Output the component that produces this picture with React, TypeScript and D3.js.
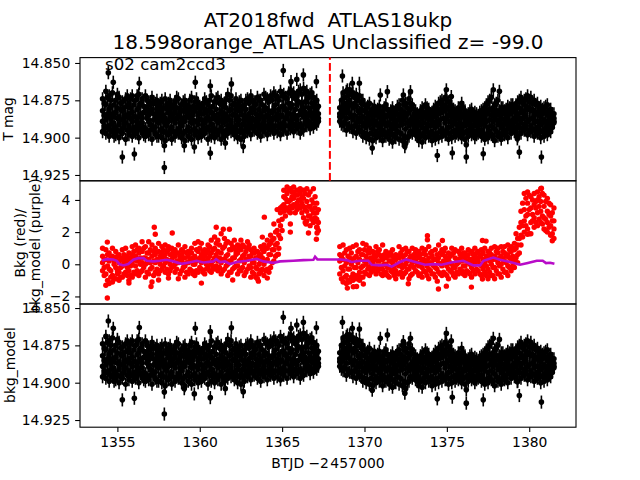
import { useEffect, useRef } from 'react';
import * as d3 from 'd3';

// cadence columns of the light curve (BTJD - 2457000 is shown on the axis)
const times = [
  1354.1, 1354.3, 1354.5, 1354.7, 1354.9, 1355.1, 1355.3, 1355.5, 1355.7, 1355.9, 1356.1, 1356.3, 1356.5, 1356.7, 1356.9,
  1357.1, 1357.3, 1357.5, 1357.7, 1357.9, 1358.1, 1358.3, 1358.5, 1358.7, 1358.9, 1359.1, 1359.3, 1359.5, 1359.7, 1359.9,
  1360.1, 1360.3, 1360.5, 1360.7, 1360.9, 1361.1, 1361.3, 1361.5, 1361.7, 1361.9, 1362.1, 1362.3, 1362.5, 1362.7, 1362.9,
  1363.1, 1363.3, 1363.5, 1363.7, 1363.9, 1364.1, 1364.3, 1364.5, 1364.7, 1364.9, 1365.1, 1365.3, 1365.5, 1365.7, 1365.9,
  1366.1, 1366.3, 1366.5, 1366.7, 1366.9, 1367.1,
  1368.5, 1368.7, 1368.9, 1369.1, 1369.3, 1369.5, 1369.7, 1369.9, 1370.1, 1370.3, 1370.5, 1370.7, 1370.9, 1371.1, 1371.3,
  1371.5, 1371.7, 1371.9, 1372.1, 1372.3, 1372.5, 1372.7, 1372.9, 1373.1, 1373.3, 1373.5, 1373.7, 1373.9, 1374.1, 1374.3,
  1374.5, 1374.7, 1374.9, 1375.1, 1375.3, 1375.5, 1375.7, 1375.9, 1376.1, 1376.3, 1376.5, 1376.7, 1376.9, 1377.1, 1377.3,
  1377.5, 1377.7, 1377.9, 1378.1, 1378.3, 1378.5, 1378.7, 1378.9, 1379.1, 1379.3, 1379.5, 1379.7, 1379.9, 1380.1, 1380.3,
  1380.5, 1380.7, 1380.9, 1381.1, 1381.3, 1381.5,
];
const midTimes = [
  1354.2, 1354.4, 1354.6, 1354.8, 1355.0, 1355.2, 1355.4, 1355.6, 1355.8, 1356.0, 1356.2, 1356.4, 1356.6, 1356.8, 1357.0,
  1357.2, 1357.4, 1357.6, 1357.8, 1358.0, 1358.2, 1358.4, 1358.6, 1358.8, 1359.0, 1359.2, 1359.4, 1359.6, 1359.8, 1360.0,
  1360.2, 1360.4, 1360.6, 1360.8, 1361.0, 1361.2, 1361.4, 1361.6, 1361.8, 1362.0, 1362.2, 1362.4, 1362.6, 1362.8, 1363.0,
  1363.2, 1363.4, 1363.6, 1363.8, 1364.0, 1364.2, 1364.4, 1364.6, 1364.8, 1365.0, 1365.2, 1365.4, 1365.6, 1365.8, 1366.0,
  1366.2, 1366.4, 1366.6, 1366.8, 1367.0, 1367.2,
  1368.6, 1368.8, 1369.0, 1369.2, 1369.4, 1369.6, 1369.8, 1370.0, 1370.2, 1370.4, 1370.6, 1370.8, 1371.0, 1371.2, 1371.4,
  1371.6, 1371.8, 1372.0, 1372.2, 1372.4, 1372.6, 1372.8, 1373.0, 1373.2, 1373.4, 1373.6, 1373.8, 1374.0, 1374.2, 1374.4,
  1374.6, 1374.8, 1375.0, 1375.2, 1375.4, 1375.6, 1375.8, 1376.0, 1376.2, 1376.4, 1376.6, 1376.8, 1377.0, 1377.2, 1377.4,
  1377.6, 1377.8, 1378.0, 1378.2, 1378.4, 1378.6, 1378.8, 1379.0, 1379.2, 1379.4, 1379.6, 1379.8, 1380.0, 1380.2, 1380.4,
  1380.6, 1380.8, 1381.0, 1381.2, 1381.4,
];

// magnitudes in the dense band, millimag above 14.000, four readings per column
const bandMags = [
  [874, 882, 889, 896], [869, 878, 888, 897], [872, 881, 892, 899], [870, 884, 890, 896], [875, 883, 893, 898],
  [873, 886, 891, 900], [876, 882, 894, 897], [874, 885, 890, 901], [877, 884, 892, 898], [872, 883, 889, 899],
  [875, 886, 893, 897], [871, 880, 891, 900], [874, 887, 890, 896], [872, 882, 894, 899], [876, 885, 889, 898],
  [873, 881, 892, 901], [877, 886, 893, 897], [879, 884, 890, 899], [875, 882, 894, 900], [874, 887, 891, 902],
  [877, 883, 889, 898], [880, 886, 893, 901], [876, 882, 890, 899], [874, 885, 894, 897], [878, 887, 892, 900],
  [875, 881, 889, 902], [879, 884, 893, 899], [873, 886, 890, 901], [876, 882, 894, 898], [877, 885, 891, 900],
  [880, 888, 895, 899], [874, 881, 890, 897], [878, 886, 893, 901], [872, 883, 891, 899], [876, 885, 894, 900],
  [873, 887, 890, 898], [875, 882, 893, 901], [877, 884, 889, 899], [871, 886, 892, 897], [872, 881, 890, 896],
  [877, 884, 893, 898], [879, 886, 891, 900], [875, 882, 894, 901], [878, 885, 889, 899], [874, 887, 892, 896],
  [872, 883, 890, 898], [876, 881, 893, 895], [873, 886, 891, 897], [875, 884, 894, 899], [871, 882, 889, 896],
  [874, 885, 892, 898], [872, 887, 890, 895], [870, 881, 893, 897], [873, 884, 888, 896], [869, 886, 891, 898],
  [871, 879, 890, 895], [874, 883, 887, 897], [868, 880, 889, 894], [870, 884, 892, 896], [872, 878, 888, 894],
  [868, 882, 891, 897], [867, 880, 886, 895], [869, 876, 888, 892], [871, 883, 890, 894], [873, 879, 887, 893],
  [875, 881, 889, 891],
  [880, 884, 886, 889], [870, 878, 885, 892], [869, 877, 887, 895], [868, 875, 884, 893], [870, 880, 888, 896],
  [871, 879, 890, 897], [872, 883, 889, 895], [875, 886, 892, 899], [880, 887, 893, 900], [877, 885, 891, 901],
  [881, 888, 894, 902], [883, 889, 896, 900], [879, 886, 893, 899], [882, 888, 895, 902], [878, 886, 892, 899],
  [884, 890, 896, 901], [880, 887, 894, 903], [882, 889, 893, 900], [878, 885, 892, 901], [875, 884, 891, 902],
  [877, 886, 894, 904], [874, 883, 892, 899], [878, 887, 890, 897], [882, 889, 895, 898], [885, 890, 896, 902],
  [880, 887, 893, 903], [878, 886, 894, 900], [881, 888, 892, 899], [883, 889, 896, 902], [879, 886, 893, 901],
  [877, 884, 891, 900], [875, 883, 894, 899], [873, 882, 890, 898], [876, 885, 893, 901], [879, 886, 892, 900],
  [882, 888, 895, 899], [880, 887, 893, 898], [877, 886, 894, 900], [882, 888, 892, 901], [884, 889, 895, 899],
  [881, 887, 893, 898], [883, 889, 896, 900], [885, 890, 894, 897], [882, 888, 895, 899], [880, 886, 892, 901],
  [876, 884, 893, 900], [873, 885, 892, 898], [878, 886, 894, 902], [875, 884, 891, 899], [880, 887, 893, 901],
  [882, 888, 895, 898], [879, 886, 892, 900], [878, 884, 891, 897], [880, 887, 893, 896], [876, 885, 892, 899],
  [873, 883, 890, 897], [875, 884, 891, 895], [872, 881, 889, 898], [873, 882, 892, 896], [875, 885, 890, 899],
  [877, 884, 893, 897], [879, 886, 891, 900], [880, 888, 894, 899], [878, 885, 892, 898], [881, 887, 893, 896],
  [884, 887, 889, 890],
];
const midMags = [
  [877, 885, 892, 894], [873, 884, 886, 893], [875, 879, 887, 895], [878, 886, 893, 899], [871, 880, 887, 895],
  [877, 881, 888, 896], [880, 887, 890, 893], [872, 879, 886, 895], [874, 880, 887, 895], [878, 886, 893, 896],
  [872, 881, 889, 895], [877, 884, 886, 894], [879, 883, 893, 898], [875, 880, 887, 896], [878, 882, 891, 895],
  [876, 884, 888, 895], [875, 881, 888, 899], [877, 882, 887, 895], [880, 885, 889, 896], [878, 881, 892, 897],
  [875, 880, 886, 895], [878, 884, 888, 896], [873, 880, 887, 896], [880, 883, 890, 895], [876, 882, 889, 897],
  [878, 883, 886, 895], [875, 881, 887, 896], [879, 883, 888, 895], [874, 880, 889, 896], [879, 883, 888, 897],
  [877, 884, 892, 895], [876, 883, 887, 894], [875, 881, 888, 895], [879, 887, 894, 896], [874, 881, 888, 896],
  [877, 884, 888, 895], [879, 886, 890, 896], [874, 880, 887, 895], [875, 882, 888, 894], [878, 885, 893, 895],
  [874, 881, 888, 895], [876, 882, 888, 896], [879, 885, 891, 896], [875, 881, 887, 894], [877, 884, 889, 893],
  [875, 880, 887, 893], [878, 884, 889, 892], [875, 881, 888, 894], [878, 886, 891, 893], [873, 880, 886, 893],
  [876, 882, 887, 894], [875, 883, 888, 892], [872, 878, 886, 892], [875, 881, 886, 893], [872, 879, 885, 893],
  [873, 881, 887, 892], [870, 877, 884, 892], [872, 878, 886, 891], [874, 881, 887, 891], [869, 876, 885, 892],
  [871, 877, 884, 893], [870, 876, 883, 890], [873, 880, 885, 889], [870, 877, 884, 891], [876, 882, 885, 890],
  [879, 884, 887, 889],
  [875, 881, 886, 891], [873, 880, 883, 890], [872, 879, 882, 891], [871, 878, 886, 893], [873, 877, 885, 892],
  [875, 882, 887, 893], [877, 881, 887, 896], [878, 882, 890, 897], [879, 884, 889, 898], [882, 884, 890, 897],
  [879, 885, 891, 898], [881, 884, 891, 897], [884, 887, 891, 897], [880, 885, 890, 898], [881, 885, 891, 897],
  [882, 886, 892, 898], [883, 885, 891, 898], [879, 884, 888, 896], [881, 886, 889, 897], [878, 883, 888, 899],
  [880, 884, 890, 900], [877, 881, 888, 896], [881, 885, 892, 895], [884, 887, 892, 899], [882, 885, 891, 899],
  [883, 886, 890, 897], [880, 884, 891, 896], [884, 887, 892, 898], [881, 885, 890, 898], [880, 883, 889, 897],
  [876, 881, 888, 896], [878, 881, 887, 896], [875, 880, 887, 896], [878, 882, 889, 897], [881, 884, 890, 896],
  [884, 886, 891, 897], [881, 884, 890, 896], [880, 884, 891, 897], [885, 887, 891, 896], [882, 885, 891, 895],
  [885, 888, 892, 896], [884, 887, 892, 898], [883, 886, 891, 896], [881, 884, 890, 897], [878, 882, 889, 898],
  [875, 881, 888, 896], [880, 883, 889, 899], [877, 882, 888, 896], [882, 885, 890, 898], [880, 884, 891, 896],
  [881, 884, 890, 897], [880, 883, 889, 894], [878, 882, 889, 894], [878, 883, 889, 896], [875, 880, 887, 893],
  [877, 882, 887, 894], [874, 879, 886, 893], [876, 880, 888, 895], [877, 881, 887, 894], [878, 883, 889, 896],
  [880, 883, 889, 895], [881, 884, 890, 896], [879, 883, 889, 895], [882, 885, 890, 895], [884, 888, 890, 893],
];

// stragglers outside the band, read one by one; T mag and bkg_model panels
const strayTimes = [
  1354.45, 1354.75, 1355.3, 1356.03, 1356.33, 1357.85, 1357.85, 1359.06, 1359.67, 1359.73, 1360.64, 1360.64, 1361.55, 1361.92,
  1362.64, 1365.07, 1365.54, 1365.89, 1366.29, 1367.08, 1368.66, 1368.96, 1369.26, 1369.69, 1370.47, 1370.96, 1371.39, 1372.36,
  1372.45, 1372.79, 1374.42, 1374.97, 1375.27, 1375.33, 1376.18, 1376.18, 1377.21, 1377.82, 1378.19, 1379.28, 1379.4, 1380.74,
];
const strayMagsT = [
  856.5, 862.9, 913, 911, 863.6, 920, 905.5, 905.5, 906.3, 862.9, 910.4, 865.4, 903.7, 864,
  906, 855, 862.5, 861, 858, 862.5, 858.7, 868, 863.6, 863.6, 907, 871.4, 869.2, 871.4,
  906, 869.2, 912, 868, 872.5, 910.3, 913, 904.8, 910.8, 868, 869, 900.8, 909.7, 913,
];
const strayMagsModel = [
  858.7, 863.6, 911.5, 910.4, 863, 921, 906.3, 904, 907.5, 863.6, 910, 865.8, 904, 863.2,
  906, 856.2, 863.6, 861.4, 859.6, 863.2, 859.6, 868, 863.6, 864, 905, 870.3, 868, 872.5,
  907, 870.3, 910.8, 867, 872, 909.7, 913.7, 904.8, 911.5, 870.3, 871, 899.3, 908.6, 913,
];

// background flux, four readings per column
const bkgValues = [
  [-0.4, 0.1, 0.5, 1.0], [-1.3, -0.6, 0.3, 0.9], [-1.2, -0.3, 0.2, 0.7], [-1.1, -0.7, 0.5, 1.0], [-0.9, -0.2, 0.3, 0.8],
  [-1.0, -0.5, 0.1, 0.6], [-0.8, -0.1, 0.4, 0.9], [-0.5, 0.0, 0.3, 1.0], [-1.0, -0.4, 0.2, 0.7], [-0.8, 0.1, 0.6, 1.1],
  [-0.6, -0.1, 0.5, 1.2], [-0.7, 0.2, 0.7, 1.0], [-0.4, 0.1, 0.8, 1.4], [-0.8, 0.0, 0.4, 1.1], [-0.6, 0.3, 0.7, 1.4],
  [-1.1, -0.2, 0.5, 1.2], [-0.5, 0.1, 0.6, 1.0], [-0.6, 0.2, 0.8, 1.3], [-0.3, 0.3, 0.7, 1.1], [-0.5, 0.1, 0.6, 1.2],
  [-0.6, 0.2, 0.9, 1.1], [-0.2, 0.3, 0.6, 1.0], [-0.5, 0.0, 0.5, 0.9], [-0.9, 0.1, 0.7, 1.2], [-0.4, 0.2, 0.6, 0.9],
  [-0.8, -0.1, 0.4, 1.1], [-0.6, 0.1, 0.5, 0.8], [-0.4, 0.2, 0.7, 1.0], [-0.7, 0.0, 0.5, 1.3], [-0.5, 0.3, 0.8, 1.4],
  [-0.3, 0.1, 0.6, 1.3], [-0.6, 0.2, 0.5, 0.9], [-0.2, 0.3, 0.9, 1.2], [-0.5, 0.0, 0.7, 1.5], [-0.3, 0.4, 1.0, 1.7],
  [-0.4, 0.2, 0.8, 1.5], [-0.6, 0.1, 0.7, 1.9], [-0.3, 0.3, 1.1, 1.6], [-0.7, 0.0, 0.6, 1.4], [-0.5, 0.2, 0.9, 1.3],
  [-0.2, 0.4, 1.0, 1.5], [-0.6, -0.1, 0.7, 1.2], [-0.4, 0.3, 0.9, 1.5], [-0.7, 0.1, 0.6, 1.1], [-0.3, 0.3, 1.0, 1.4],
  [-0.8, -0.2, 0.5, 0.9], [-0.6, 0.1, 0.7, 1.0], [-0.9, -0.3, 0.4, 0.8], [-0.5, 0.2, 0.6, 1.1], [-0.7, 0.0, 0.8, 1.2],
  [-0.3, 0.3, 1.0, 1.5], [-0.2, 0.6, 1.3, 1.8], [0.2, 0.9, 1.6, 2.5], [0.6, 1.3, 2.1, 3.4], [1.6, 2.4, 3.2, 3.5],
  [3.3, 3.7, 4.2, 4.6], [3.5, 3.9, 4.4, 4.8], [3.2, 3.6, 4.0, 4.7], [3.7, 4.1, 4.5, 4.8], [3.4, 3.8, 4.3, 4.6],
  [3.5, 4.0, 4.4, 4.7], [2.9, 3.6, 4.1, 4.6], [2.7, 3.3, 3.9, 4.7], [2.4, 3.0, 3.6, 4.5], [2.6, 3.2, 3.8, 4.7],
  [2.3, 2.8, 3.2, 3.8],
  [-0.6, 0.2, 0.6, 1.1], [-1.1, -0.4, 0.3, 1.2], [-1.2, -0.7, 0.1, 0.9], [-1.1, -0.3, 0.4, 1.0], [-1.0, -0.6, 0.2, 1.1],
  [-0.9, -0.2, 0.5, 1.2], [-1.0, -0.5, 0.3, 0.9], [-0.8, -0.1, 0.6, 1.3], [-0.6, 0.0, 0.5, 1.2], [-0.7, -0.2, 0.7, 1.0],
  [-0.4, 0.1, 0.4, 0.8], [-0.6, -0.1, 0.5, 1.1], [-0.3, 0.2, 0.6, 0.9], [-0.7, -0.3, 0.3, 1.2], [-0.5, 0.0, 0.4, 0.8],
  [-0.8, -0.2, 0.2, 0.7], [-0.5, 0.1, 0.5, 0.9], [-0.9, -0.4, 0.3, 0.6], [-0.6, -0.1, 0.4, 1.1], [-0.8, -0.2, 0.5, 0.9],
  [-0.5, 0.0, 0.6, 1.0], [-0.9, -0.3, 0.3, 0.8], [-0.6, 0.1, 0.5, 1.0], [-0.4, 0.2, 0.7, 0.9], [-0.7, -0.1, 0.4, 0.8],
  [-0.8, -0.2, 0.3, 1.0], [-0.5, 0.1, 0.6, 0.9], [-0.9, -0.3, 0.4, 1.1], [-0.6, 0.0, 0.5, 0.8], [-0.8, -0.2, 0.3, 0.9],
  [-0.5, 0.1, 0.4, 1.2], [-0.7, -0.1, 0.6, 0.9], [-0.6, 0.2, 0.5, 1.0], [-0.9, -0.3, 0.3, 0.7], [-0.5, 0.0, 0.6, 1.0],
  [-0.8, -0.2, 0.4, 0.9], [-0.6, 0.1, 0.3, 0.8], [-0.4, 0.2, 0.5, 1.0], [-0.7, -0.1, 0.4, 0.7], [-0.5, 0.1, 0.6, 0.9],
  [-0.8, -0.2, 0.3, 0.8], [-0.6, 0.0, 0.5, 1.0], [-0.4, 0.2, 0.4, 0.8], [-0.7, -0.1, 0.6, 0.9], [-0.5, 0.1, 0.3, 1.0],
  [-0.9, -0.3, 0.4, 0.8], [-0.7, 0.0, 0.6, 1.0], [-0.9, -0.2, 0.5, 1.1], [-0.6, 0.1, 0.7, 1.0], [-0.8, 0.0, 0.5, 1.1],
  [-0.5, 0.2, 0.7, 1.1], [-0.7, -0.1, 0.6, 1.2], [-0.4, 0.2, 0.8, 1.1], [-0.2, 0.3, 0.9, 1.3], [0.1, 0.6, 1.2, 1.6],
  [1.2, 1.8, 2.6, 3.3], [2.0, 2.7, 3.4, 4.4], [2.2, 3.1, 3.8, 4.5], [1.9, 2.6, 3.5, 4.2], [2.3, 2.9, 3.7, 4.4],
  [2.4, 3.2, 4.0, 4.5], [2.6, 3.3, 3.9, 4.7], [2.2, 2.9, 3.6, 4.3], [2.0, 2.6, 3.3, 4.1], [1.8, 2.4, 3.0, 3.7],
  [1.6, 2.2, 2.7, 3.5],
];
const midBkg = [
  [-0.7, -0.2, 0.3], [-1.0, -0.1, 0.6], [-0.8, -0.4, 0.4], [-0.9, 0.0, 0.2], [-0.6, -0.4, 0.5],
  [-0.8, -0.2, 0.3], [-0.6, 0.1, 0.6], [-0.7, -0.2, 0.5], [-0.7, -0.1, 0.4], [-0.5, 0.3, 0.8],
  [-0.4, 0.2, 0.9], [-0.5, 0.0, 0.4], [-0.2, 0.4, 1.0], [-0.5, 0.1, 0.7], [-0.3, 0.1, 0.9],
  [-0.7, 0.2, 0.8], [-0.3, 0.3, 0.8], [-0.4, 0.0, 0.5], [-0.1, 0.5, 0.9], [-0.3, 0.3, 0.8],
  [-0.4, 0.0, 0.6], [-0.1, 0.5, 0.8], [-0.3, 0.2, 0.7], [-0.6, 0.3, 0.5], [-0.2, 0.4, 0.8],
  [-0.5, 0.1, 0.7], [-0.3, 0.3, 0.7], [-0.6, 0.0, 0.4], [-0.4, 0.2, 0.9], [-0.2, 0.4, 1.0],
  [-0.5, 0.3, 0.8], [-0.3, 0.0, 0.7], [-0.4, 0.5, 1.1], [-0.2, 0.2, 0.9], [-0.1, 0.6, 1.3],
  [-0.2, 0.4, 1.2], [-0.4, 0.3, 1.0], [-0.1, 0.5, 1.3], [-0.5, 0.2, 0.9], [-0.3, 0.4, 1.1],
  [-0.1, 0.6, 0.8], [-0.4, 0.2, 1.0], [-0.2, 0.5, 1.2], [-0.5, 0.3, 0.8], [-0.1, 0.5, 1.2],
  [-0.5, 0.1, 0.7], [-0.8, -0.2, 0.4], [-0.6, 0.0, 0.6], [-0.3, 0.4, 0.9], [-0.4, 0.2, 1.0],
  [-0.5, 0.6, 1.2], [0.1, 0.9, 1.5], [0.5, 1.2, 2.0], [1.0, 1.8, 2.7], [2.1, 2.8, 3.6],
  [3.0, 3.5, 4.1], [3.3, 3.9, 4.6], [3.5, 4.2, 4.5], [3.2, 3.6, 4.3], [3.6, 4.0, 4.6],
  [3.2, 3.8, 4.2], [2.6, 3.4, 4.4], [3.0, 3.6, 4.3], [2.8, 3.4, 4.0], [2.9, 3.5, 4.2],
  [2.1, 2.6, 3.4],
  [-0.9, -0.2, 0.5], [-0.8, -0.1, 0.7], [-1.0, -0.3, 0.5], [-0.8, 0.0, 0.7], [-0.7, -0.2, 0.4],
  [-0.7, 0.1, 0.8], [-0.8, -0.2, 0.6], [-0.5, 0.2, 0.9], [-0.3, 0.3, 0.8], [-0.5, 0.1, 0.4],
  [-0.2, 0.3, 0.6], [-0.4, 0.2, 0.8], [-0.6, -0.1, 0.5], [-0.5, 0.0, 0.6], [-0.7, -0.2, 0.5],
  [-0.4, 0.2, 0.7], [-0.7, -0.2, 0.4], [-0.6, 0.0, 0.5], [-0.5, 0.1, 0.7], [-0.6, -0.1, 0.3],
  [-0.3, 0.2, 0.8], [-0.7, -0.1, 0.5], [-0.2, 0.3, 0.6], [-0.5, 0.0, 0.5], [-0.6, 0.1, 0.6],
  [-0.4, 0.3, 0.7], [-0.7, -0.1, 0.2], [-0.4, 0.1, 0.7], [-0.6, -0.1, 0.3], [-0.3, 0.3, 0.6],
  [-0.6, 0.0, 0.7], [-0.5, 0.2, 0.8], [-0.7, -0.1, 0.4], [-0.4, 0.1, 0.5], [-0.7, -0.2, 0.7],
  [-0.5, 0.0, 0.3], [-0.3, 0.3, 0.6], [-0.6, -0.1, 0.7], [-0.4, 0.2, 0.5], [-0.6, 0.0, 0.3],
  [-0.4, 0.1, 0.6], [-0.3, 0.3, 0.7], [-0.6, 0.0, 0.5], [-0.3, 0.3, 0.7], [-0.7, -0.1, 0.5],
  [-0.5, 0.2, 0.7], [-0.7, -0.2, 0.3], [-0.4, 0.3, 0.8], [-0.6, -0.1, 0.4], [-0.3, 0.3, 0.8],
  [-0.5, 0.1, 0.5], [-0.2, 0.4, 0.9], [-0.1, 0.5, 1.0], [0.4, 1.0, 1.9], [0.7, 1.6, 2.3],
  [1.7, 2.4, 3.8], [2.4, 3.0, 4.1], [1.9, 3.4, 4.3], [2.7, 3.1, 4.0], [2.6, 3.5, 3.9],
  [2.8, 3.6, 4.2], [2.5, 3.0, 4.4], [2.1, 2.8, 3.9], [2.3, 3.1, 3.8], [1.9, 2.7, 3.2],
];

const strayBkgTimes = [
  1354.39, 1354.39, 1355.7, 1357.04, 1357.24, 1357.3, 1357.5, 1358.1, 1358.33, 1360.1, 1361.0, 1361.43, 1361.8, 1362.0, 1363.56,
  1363.8, 1363.92, 1364.1, 1364.77, 1365.5, 1365.5, 1366.45, 1366.6, 1367.08, 1367.12, 1367.12, 1368.96, 1369.32, 1369.52,
  1369.93, 1372.66, 1373.82, 1373.82, 1374.42, 1374.49, 1374.73, 1374.97, 1376.49, 1377.16, 1377.16, 1377.38, 1379.89, 1380.74, 1381.4,
];
const strayBkgValues = [
  -2.1, 1.38, -1.17, -1.38, 2.3, 1.87, -0.98, -0.86, 1.94, -1.17, 2.3, 2.18, 2.18, -0.98, -1.05,
  1.69, 2.93, -0.86, 0.63, 2.0, 2.5, 2.5, 1.94, 1.56, 1.94, 2.3, -1.48, -1.4, -1.38,
  -1.23, -1.21, 1.77, 1.52, -1.05, -1.54, 1.48, -1.36, -1.42, 1.48, -0.92, 1.44, 1.87, 4.73, 1.46,
];

// smooth background model (purple)
const modelTimes = [
  1354.07, 1354.35, 1354.75, 1354.96, 1355.12, 1355.36, 1355.66, 1355.97, 1356.27, 1356.58, 1356.78, 1357.18, 1357.59, 1357.99,
  1358.4, 1358.9, 1359.41, 1359.81, 1360.22, 1360.83, 1360.99, 1361.23, 1361.53, 1361.84, 1362.24, 1362.85, 1363.46, 1363.86,
  1364.47, 1364.87, 1365.68, 1366.29, 1366.9, 1367.0, 1367.14, 1368.51, 1368.92, 1369.22, 1369.73, 1370.23, 1370.44, 1370.94,
  1371.35, 1371.65, 1372.16, 1372.52, 1372.97, 1373.68, 1374.18, 1374.69, 1375.4, 1376.0, 1376.61, 1377.02, 1377.22, 1377.82,
  1378.23, 1378.84, 1379.44, 1379.85, 1380.46, 1380.82, 1381.02, 1381.27, 1381.53,
];
const modelValues = [
  0.24, 0.32, 0.3, 0.22, 0.01, -0.07, 0.01, 0.28, 0.38, 0.38, 0.22, 0.18, 0.22, 0.28,
  0.18, 0.03, 0.13, 0.22, 0.11, 0.18, 0.32, 0.14, 0.18, 0.01, 0.14, 0.22, 0.34, 0.18,
  0.09, 0.18, 0.22, 0.26, 0.28, 0.47, 0.3, 0.3, 0.26, 0.14, 0.22, 0.22, -0.03, -0.07,
  -0.03, -0.14, 0.14, 0.3, 0.18, -0.03, 0.01, -0.03, 0.14, 0.22, -0.07, -0.07, 0.22, 0.42,
  0.28, 0.14, -0.03, 0.07, 0.22, 0.22, 0.07, 0.09, 0.03,
];

const xTicks = [1355, 1360, 1365, 1370, 1375, 1380];
const magTicks = [14.85, 14.875, 14.9, 14.925];
const bkgTicks = [-2, 0, 2, 4];
const magError = 4.4;
const discoveryTime = 1367.9;

const FONT = '"DejaVu Sans", sans-serif';
const left = 80;
const right = 576;
const tops = [57.6, 180.8, 304];
const panelH = 123.2;

export default function App() {
  const ref = useRef<SVGSVGElement>(null);

  useEffect(() => {
    if (!ref.current) return;
    const svg = d3.select(ref.current);
    svg.selectAll('*').remove();

    const x = d3.scaleLinear().domain([1352.73, 1382.84]).range([left, right]);
    const yT = d3.scaleLinear().domain([14.8464, 14.9289]).range([tops[0], tops[0] + panelH]);
    const yB = d3.scaleLinear().domain([5.19, -2.47]).range([tops[1], tops[1] + panelH]);
    const yM = d3.scaleLinear().domain([14.8473, 14.9298]).range([tops[2], tops[2] + panelH]);

    const drawErrPoints = (pts: [number, number][], y: d3.ScaleLinear<number, number>) => {
      const g = svg.append('g');
      g.selectAll('line')
        .data(pts)
        .enter()
        .append('line')
        .attr('x1', (d) => x(d[0]))
        .attr('x2', (d) => x(d[0]))
        .attr('y1', (d) => y(14 + (d[1] - magError) / 1000))
        .attr('y2', (d) => y(14 + (d[1] + magError) / 1000))
        .attr('stroke', '#000')
        .attr('stroke-width', 1.6);
      g.selectAll('circle')
        .data(pts)
        .enter()
        .append('circle')
        .attr('cx', (d) => x(d[0]))
        .attr('cy', (d) => y(14 + d[1] / 1000))
        .attr('r', 2.8)
        .attr('fill', '#000');
    };

    const band: [number, number][] = [
      ...times.flatMap((t, i) => bandMags[i].map((m) => [t, m] as [number, number])),
      ...midTimes.flatMap((t, i) => midMags[i].map((m) => [t, m] as [number, number])),
    ];
    drawErrPoints([...band, ...strayTimes.map((t, i) => [t, strayMagsT[i]] as [number, number])], yT);
    drawErrPoints([...band, ...strayTimes.map((t, i) => [t, strayMagsModel[i]] as [number, number])], yM);

    // red background points
    const bkgPts: [number, number][] = [
      ...times.flatMap((t, i) => bkgValues[i].map((v) => [t, v] as [number, number])),
      ...midTimes.flatMap((t, i) => midBkg[i].map((v) => [t, v] as [number, number])),
      ...strayBkgTimes.map((t, i) => [t, strayBkgValues[i]] as [number, number]),
    ];
    svg
      .append('g')
      .selectAll('circle')
      .data(bkgPts)
      .enter()
      .append('circle')
      .attr('cx', (d) => x(d[0]))
      .attr('cy', (d) => yB(d[1]))
      .attr('r', 2.7)
      .attr('fill', '#ff0000');

    // model line
    const line = d3
      .line<number>()
      .x((_, i) => x(modelTimes[i]))
      .y((d) => yB(d));
    svg
      .append('path')
      .datum(modelValues)
      .attr('fill', 'none')
      .attr('stroke', '#b80cc8')
      .attr('stroke-width', 2.6)
      .attr('d', line);

    // frames and axes
    tops.forEach((top) => {
      svg
        .append('rect')
        .attr('x', left)
        .attr('y', top)
        .attr('width', right - left)
        .attr('height', panelH)
        .attr('fill', 'none')
        .attr('stroke', '#000')
        .attr('stroke-width', 1.1);
    });

    // red dashed marker, top panel only
    svg
      .append('line')
      .attr('x1', x(discoveryTime))
      .attr('x2', x(discoveryTime))
      .attr('y1', tops[1])
      .attr('y2', tops[0])
      .attr('stroke', '#ff0000')
      .attr('stroke-width', 2)
      .attr('stroke-dasharray', '7.7,3.3');

    const styleAxis = (g: d3.Selection<SVGGElement, unknown, null, undefined>) => {
      g.select('.domain').remove();
      g.selectAll('.tick line').attr('stroke', '#000').attr('stroke-width', 1.1);
      g.selectAll('.tick text').attr('fill', '#000').style('font-family', FONT).style('font-size', '13.89px');
    };

    const magAxis = (y: d3.ScaleLinear<number, number>) =>
      d3.axisLeft(y).tickValues(magTicks).tickFormat(d3.format('.3f')).tickSize(4.86).tickPadding(4.86);

    svg.append('g').attr('transform', `translate(${left},0)`).call(magAxis(yT)).call(styleAxis);
    svg
      .append('g')
      .attr('transform', `translate(${left},0)`)
      .call(d3.axisLeft(yB).tickValues(bkgTicks).tickFormat((d) => `${d}`.replace('-', '\u2212')).tickSize(4.86).tickPadding(4.86))
      .call(styleAxis);
    svg.append('g').attr('transform', `translate(${left},0)`).call(magAxis(yM)).call(styleAxis);
    svg
      .append('g')
      .attr('transform', `translate(0,${tops[2] + panelH})`)
      .call(d3.axisBottom(x).tickValues(xTicks).tickFormat(d3.format('d')).tickSize(4.86).tickPadding(4.86))
      .call(styleAxis);

    const label = (txt: string, px: number, py: number, size: number, anchor = 'middle', rotate = false) => {
      svg
        .append('text')
        .attr('x', px)
        .attr('y', py)
        .attr('text-anchor', anchor)
        .attr('transform', rotate ? `rotate(-90 ${px} ${py})` : null)
        .style('font-family', FONT)
        .style('font-size', `${size}px`)
        .style('white-space', 'pre')
        .attr('fill', '#000')
        .text(txt);
    };

    label('AT2018fwd  ATLAS18ukp', 328, 27, 20);
    label('18.598orange_ATLAS Unclassified z= -99.0', 328, 49, 20);
    label('s02 cam2ccd3', 105, 70, 16.67, 'start');
    label('T mag', 13, 119, 13.89, 'middle', true);
    label('Bkg (red)/', 24.5, 243, 13.89, 'middle', true);
    label('bkg_model (purple)', 40, 246, 13.89, 'middle', true);
    label('bkg_model', 15, 365, 13.89, 'middle', true);
    label('BTJD \u22122\u200A457\u200A000', 328, 468, 13.89);
  }, []);

  return <svg ref={ref} width={640} height={480} style={{ position: 'absolute', left: 0, top: 0, background: '#fff' }} />;
}
